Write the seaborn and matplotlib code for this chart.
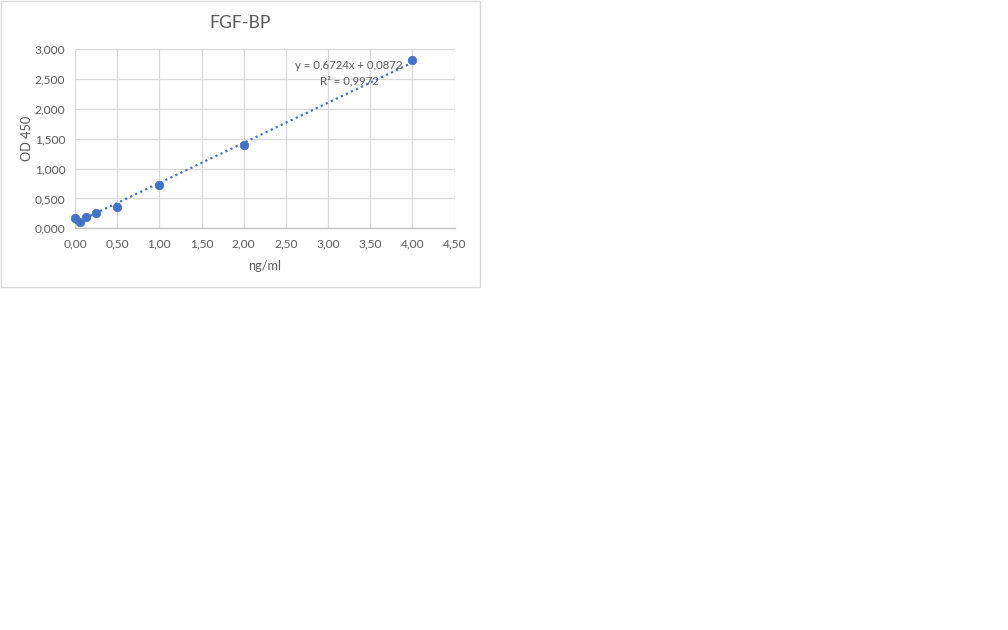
import numpy as np
import matplotlib
matplotlib.use('Agg')
import matplotlib.pyplot as plt
import seaborn as sns
from matplotlib.ticker import FuncFormatter, MultipleLocator
from matplotlib.patches import Rectangle

# Standard curve values
conc = [0.0, 0.0625, 0.125, 0.25, 0.5, 1.0, 2.0, 4.0]
od450 = [0.168, 0.100, 0.195, 0.250, 0.352, 0.720, 1.390, 2.815]

# Linear trendline as printed on the chart
slope = 0.6724
intercept = 0.0872
r2 = 0.9972

title = "FGF-BP"
x_label = "ng/ml"
y_label = "OD 450"

sns.set_style("white")
plt.rcParams['font.family'] = ['Lato', 'DejaVu Sans']

text_col = '#595959'
blue = '#4472C4'

fig = plt.figure(figsize=(10.08, 6.3), dpi=100)
ax = fig.add_axes([75 / 1008, 1 - 228.3 / 630, 379.5 / 1008, 179 / 630])

# chart area border
fig.patches.append(Rectangle((0.5 / 1008, 1 - 287.5 / 630), 479 / 1008, 287 / 630,
                             transform=fig.transFigure, fill=False,
                             edgecolor='#D9D9D9', linewidth=1))

# trendline over the data range
x_fit = np.array([min(conc), max(conc)])
sns.lineplot(x=x_fit, y=slope * x_fit + intercept, ax=ax, color=blue,
             linestyle=(0, (1, 1.5)), linewidth=1.6, zorder=2)

sns.scatterplot(x=conc, y=od450, ax=ax, color=blue, s=38,
                edgecolor=blue, linewidth=0.5, zorder=3, clip_on=False)

ax.set_xlim(0, 4.5)
ax.set_ylim(0, 3.0)
ax.xaxis.set_major_locator(MultipleLocator(0.5))
ax.yaxis.set_major_locator(MultipleLocator(0.5))
ax.xaxis.set_major_formatter(FuncFormatter(lambda v, p: f"{v:.2f}".replace('.', ',')))
ax.yaxis.set_major_formatter(FuncFormatter(lambda v, p: f"{v:.3f}".replace('.', ',')))

ax.grid(True, color='#D9D9D9', linewidth=0.9)
ax.set_axisbelow(True)
for side in ['top', 'right', 'left']:
    ax.spines[side].set_visible(False)
ax.spines['bottom'].set_color('#BFBFBF')
ax.spines['bottom'].set_linewidth(0.9)
ax.tick_params(axis='both', length=0, labelsize=8.6, labelcolor=text_col, pad=7)

ax.set_xlabel(x_label, fontsize=9.2, color=text_col, labelpad=8)
ax.set_ylabel(y_label, fontsize=9.2, color=text_col, labelpad=1)

fig.text(240 / 1008, 1 - 23 / 630, title, ha='center', va='center',
         fontsize=12.6, color=text_col)

eq = f"y = {slope:.4f}x + {intercept:.4f}".replace('.', ',')
rr = f"R² = {r2:.4f}".replace('.', ',')
ax.text(3.25, 2.60, eq + "\n" + rr, ha='center', va='center',
        fontsize=8.2, color=text_col, linespacing=1.45, zorder=4)

fig.savefig('out.png', dpi=100)
